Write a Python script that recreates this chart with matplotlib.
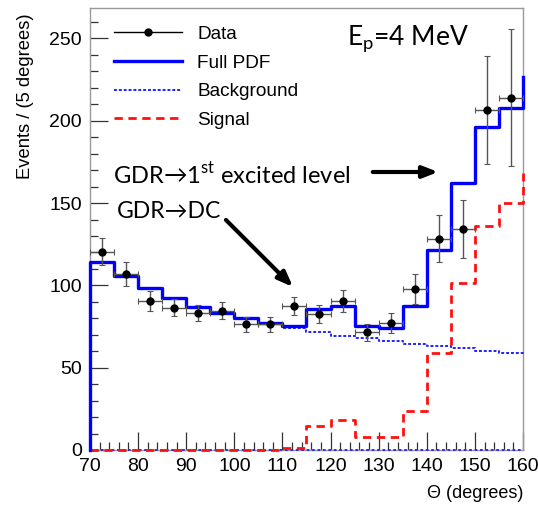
import matplotlib
matplotlib.use('Agg')
import matplotlib.pyplot as plt
import matplotlib.ticker as ticker
from matplotlib.lines import Line2D
import numpy as np

plt.rcParams['font.family'] = ['Liberation Sans', 'DejaVu Sans']

# bin edges (5 degree bins) and data
edges = [70, 75, 80, 85, 90, 95, 100, 105, 110, 115, 120, 125, 130, 135, 140, 145, 150, 155, 160]
centers = [72.5, 77.5, 82.5, 87.5, 92.5, 97.5, 102.5, 107.5, 112.5, 117.5,
           122.5, 127.5, 132.5, 137.5, 142.5, 147.5, 152.5, 157.5]
data = [120.5, 106.9, 90.7, 86.3, 83.0, 84.6, 76.4, 76.4, 87.5, 82.6,
        90.5, 71.5, 77.0, 97.6, 128.4, 134.1, 206.6, 214.0]
data_err = [8.1, 7.1, 6.0, 5.2, 4.8, 5.2, 4.6, 4.6, 5.2, 5.5,
            6.6, 5.3, 6.0, 9.1, 14.2, 17.5, 33.0, 41.5]

full_pdf = [114.4, 105.9, 98.2, 92.2, 87.1, 83.4, 80.0, 77.0, 75.5, 85.7,
            87.7, 75.3, 73.9, 87.7, 121.5, 162.0, 196.0, 207.6]
full_end = 226.8
background = [114.4, 105.9, 98.2, 92.2, 87.1, 83.4, 80.0, 77.0, 73.9, 71.9,
              69.5, 68.2, 66.2, 64.4, 63.2, 61.8, 60.3, 58.7]
bkg_end = 58.0
signal = [0, 0, 0, 0, 0, 0, 0, 0, 1.5, 14.8,
          18.2, 7.7, 7.7, 23.9, 58.7, 101.3, 136.0, 149.9]
sig_end = 168.1

fig = plt.figure(figsize=(5.38, 5.09), dpi=100)
ax = fig.add_axes([90/538, 59/509, 433/538, 442/509])

def curve(vals, end):
    x = [edges[0]] + edges
    y = [0] + list(vals) + [end]
    return x, y

# baselines at zero
ax.plot([70, 160], [0, 0], color='#2020ff', lw=1.3, ls=(0, (1.5, 1.5)),
        zorder=4, clip_on=False)

xb, yb = curve(background, bkg_end)
ax.step(xb, yb, where='post', color='#2020ff', lw=1.4, ls=(0, (1.5, 1.0)),
        zorder=4, clip_on=False)
xs, ys = curve(signal, sig_end)
ax.step(xs, ys, where='post', color='#ff1010', lw=2.0, ls=(0, (3, 2)),
        zorder=4, clip_on=False)
xf, yf = curve(full_pdf, full_end)
ax.step(xf, yf, where='post', color='#0000ff', lw=2.4, zorder=4, clip_on=False)

ax.errorbar(centers, data, yerr=data_err, xerr=2.5, fmt='o', color='black',
            ecolor='#555555', elinewidth=1.0, capsize=2, capthick=0.8,
            markersize=5, zorder=5)

ax.set_xlim(70, 160)
ax.set_ylim(0, 268.5)
ax.xaxis.set_major_locator(ticker.MultipleLocator(10))
ax.xaxis.set_minor_locator(ticker.MultipleLocator(2))
ax.yaxis.set_major_locator(ticker.MultipleLocator(50))
ax.yaxis.set_minor_locator(ticker.MultipleLocator(10))
ax.tick_params(which='both', direction='in', top=False, right=False,
               labelsize=14, color='#333333', width=0.9)
ax.tick_params(which='major', length=13, pad=6)
ax.tick_params(which='minor', length=6)
for s in ax.spines.values():
    s.set_color('#999999')
    s.set_linewidth(1.0)

fig.text(26/538, 1 - 13/509, 'Events / (5 degrees)', rotation=90,
         ha='center', va='top', fontsize=13.2)
fig.text(523/538, 1 - 493/509, '\u0398 (degrees)', ha='right', va='center',
         fontsize=13)

handles = [
    Line2D([], [], color='black', marker='o', markersize=5, lw=1.0),
    Line2D([], [], color='#0000ff', lw=2.4),
    Line2D([], [], color='#2020ff', lw=1.4, ls=(0, (1.5, 1.0))),
    Line2D([], [], color='#ff1010', lw=2.0, ls=(0, (3, 2))),
]
ax.legend(handles, ['Data', 'Full PDF', 'Background', 'Signal'],
          loc='upper left', bbox_to_anchor=(104/538, 1 - 16/509),
          bbox_transform=fig.transFigure, frameon=False, fontsize=13.7,
          handlelength=3.6, handletextpad=0.8, labelspacing=0.6,
          borderpad=0)

cal = ['Lato', 'DejaVu Sans']
fig.text(347/538, 1 - 45/509, r'E$_\mathregular{p}$=4 MeV', fontsize=19,
         family=cal, va='baseline')
fig.text(113/538, 1 - 175/509, 'GDR\u21921$^{\\mathregular{st}}$ excited level',
         fontsize=17, family=cal, va='center')
fig.text(117/538, 1 - 212/509, 'GDR\u2192DC', fontsize=16.5, family=cal, va='center')

ax.annotate('', xy=(441/538, 1 - 172/509), xytext=(370/538, 1 - 172/509),
            xycoords='figure fraction', textcoords='figure fraction',
            arrowprops=dict(arrowstyle='-|>,head_length=0.9,head_width=0.35',
                            color='black', lw=3))
ax.annotate('', xy=(295/538, 1 - 289/509), xytext=(224/538, 1 - 218/509),
            xycoords='figure fraction', textcoords='figure fraction',
            arrowprops=dict(arrowstyle='-|>,head_length=0.9,head_width=0.35',
                            color='black', lw=3))

fig.savefig('out.png', dpi=100, facecolor='white')
